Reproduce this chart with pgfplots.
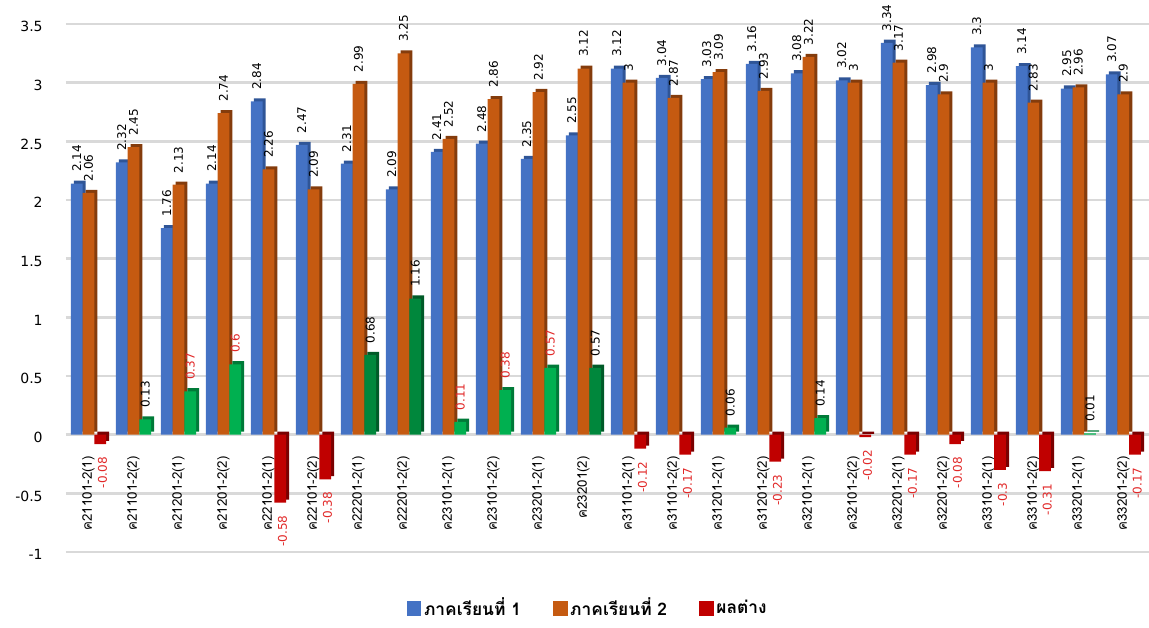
\documentclass[border=0pt]{standalone}
\usepackage{pgfplots}
\pgfplotsset{compat=1.18}
\usepackage{pgfplotstable}
\usepackage{fontspec}
\setmainfont{DejaVu Sans}
\newfontfamily\thaifont[Script=Thai]{Loma}

\definecolor{sblue}{HTML}{4472C4}
\definecolor{sbluedk}{HTML}{2F5597}
\definecolor{sorange}{HTML}{C55A11}
\definecolor{sorangedk}{HTML}{843C0C}
\definecolor{sred}{HTML}{C00000}
\definecolor{sreddk}{HTML}{7A0000}
\definecolor{lgreen}{HTML}{00B050}
\definecolor{lgreendk}{HTML}{007A38}
\definecolor{dgreen}{HTML}{00873C}
\definecolor{dgreendk}{HTML}{005A28}
\definecolor{lblred}{RGB}{225,40,40}
\definecolor{gridgray}{HTML}{D9D9D9}

% semester 1 and 2 averages
\pgfplotstableread{
x s1 s2
0 2.14 2.06
1 2.32 2.45
2 1.76 2.13
3 2.14 2.74
4 2.84 2.26
5 2.47 2.09
6 2.31 2.99
7 2.09 3.25
8 2.41 2.52
9 2.48 2.86
10 2.35 2.92
11 2.55 3.12
12 3.12 3
13 3.04 2.87
14 3.03 3.09
15 3.16 2.93
16 3.08 3.22
17 3.02 3
18 3.34 3.17
19 2.98 2.9
20 3.3 3
21 3.14 2.83
22 2.95 2.96
23 3.07 2.9
}\semtab

% differences, split by bar / label colour
\pgfplotstableread{
x d
0 -0.08
4 -0.58
5 -0.38
12 -0.12
13 -0.17
15 -0.23
17 -0.02
18 -0.17
19 -0.08
20 -0.3
21 -0.31
23 -0.17
}\dneg
\pgfplotstableread{
x d
1 0.13
14 0.06
16 0.14
22 0.01
}\dlgblack
\pgfplotstableread{
x d
2 0.37
3 0.6
8 0.11
9 0.38
10 0.57
}\dlgred
\pgfplotstableread{
x d
6 0.68
7 1.16
11 0.57
}\ddgblack

\pgfplotsset{
  front/.style={ybar, bar width=8.8pt, draw=none, fill=#1},
  depth/.style={ybar, bar width=8.8pt, draw=none, fill=#1, forget plot,
    xshift=2.3pt, yshift=2.3pt},
  lblup/.style 2 args={nodes near coords,
    every node near coord/.append style={xshift=#2, rotate=90, anchor=west,
      font=\fontsize{9}{10}\selectfont, text=#1, inner xsep=8.5pt, inner ysep=1pt}},
  lbldown/.style 2 args={nodes near coords,
    every node near coord/.append style={xshift=#2, rotate=90, anchor=east,
      font=\fontsize{9}{10}\selectfont, text=#1, inner xsep=9.5pt, inner ysep=1pt}},
}

\begin{document}
\begin{tikzpicture}
\begin{axis}[
  scale only axis,
  width=812.25pt, height=396pt,
  xmin=-0.5, xmax=23.57,
  ymin=-1, ymax=3.5,
  clip=false,
  axis line style={draw=none},
  major tick length=0pt,
  ytick={-1,-0.5,0,0.5,1,1.5,2,2.5,3,3.5},
  ymajorgrids,
  major grid style={line width=1.8pt, gridgray},
  /pgf/number format/.cd, fixed, precision=2, assume math mode=true,
  /pgfplots/.cd,
  yticklabel style={font=\fontsize{10.5}{12}\selectfont, yshift=-2pt},
  yticklabel shift=14pt,
  xtick={0,...,23},
  xticklabels={ค21101-2(1),ค21101-2(2),ค21201-2(1),ค21201-2(2),ค22101-2(1),ค22101-2(2),ค22201-2(1),ค22201-2(2),ค23101-2(1),ค23101-2(2),ค23201-2(1),ค23201(2),ค31101-2(1),ค31101-2(2),ค31201-2(1),ค31201-2(2),ค32101-2(1),ค32101-2(2),ค32201-2(1),ค32201-2(2),ค33101-2(1),ค33101-2(2),ค33201-2(1),ค33201-2(2)},
  xticklabel style={rotate=90, anchor=east, inner sep=0pt, font=\thaifont\fontsize{10}{12}\selectfont},
  xticklabel shift=-72pt,
  legend style={at={(0.482,-0.106)}, anchor=center, draw=none, fill=none,
    legend columns=3, font=\thaifont\bfseries\fontsize{13}{14}\selectfont,
    /tikz/every even column/.append style={column sep=22pt}},
  legend image code/.code={\fill[#1] (0pt,-6pt) rectangle (11pt,5.5pt);},
]
\coordinate (bl) at (rel axis cs:0,0);

\addplot[depth=sbluedk, bar shift=-8.8pt] table[x=x, y=s1] {\semtab};
\addplot[front=sblue, bar shift=-8.8pt, lblup={black}{-8.8pt}] table[x=x, y=s1] {\semtab};
\addlegendentry{ภาคเรียนที่ 1}

\addplot[depth=sorangedk, bar shift=0pt] table[x=x, y=s2] {\semtab};
\addplot[front=sorange, bar shift=0pt, lblup={black}{0pt}] table[x=x, y=s2] {\semtab};
\addlegendentry{ภาคเรียนที่ 2}

\addplot[depth=sreddk, bar shift=8.8pt] table[x=x, y=d] {\dneg};
\addplot[depth=lgreendk, bar shift=8.8pt] table[x=x, y=d] {\dlgblack};
\addplot[depth=lgreendk, bar shift=8.8pt] table[x=x, y=d] {\dlgred};
\addplot[depth=dgreendk, bar shift=8.8pt] table[x=x, y=d] {\ddgblack};

\addplot[front=sred, bar shift=8.8pt, lbldown={lblred}{10.5pt}] table[x=x, y=d] {\dneg};
\addlegendentry{ผลต่าง}
\addplot[front=lgreen, bar shift=8.8pt, lblup={black}{8.8pt}, forget plot] table[x=x, y=d] {\dlgblack};
\addplot[front=lgreen, bar shift=8.8pt, lblup={lblred}{8.8pt}, forget plot] table[x=x, y=d] {\dlgred};
\addplot[front=dgreen, bar shift=8.8pt, lblup={black}{8.8pt}, forget plot] table[x=x, y=d] {\ddgblack};
\end{axis}
\pgfresetboundingbox
\useasboundingbox (bl) ++(-49.5pt,-57pt) rectangle ++(861.75pt,471pt);
\end{tikzpicture}
\end{document}
